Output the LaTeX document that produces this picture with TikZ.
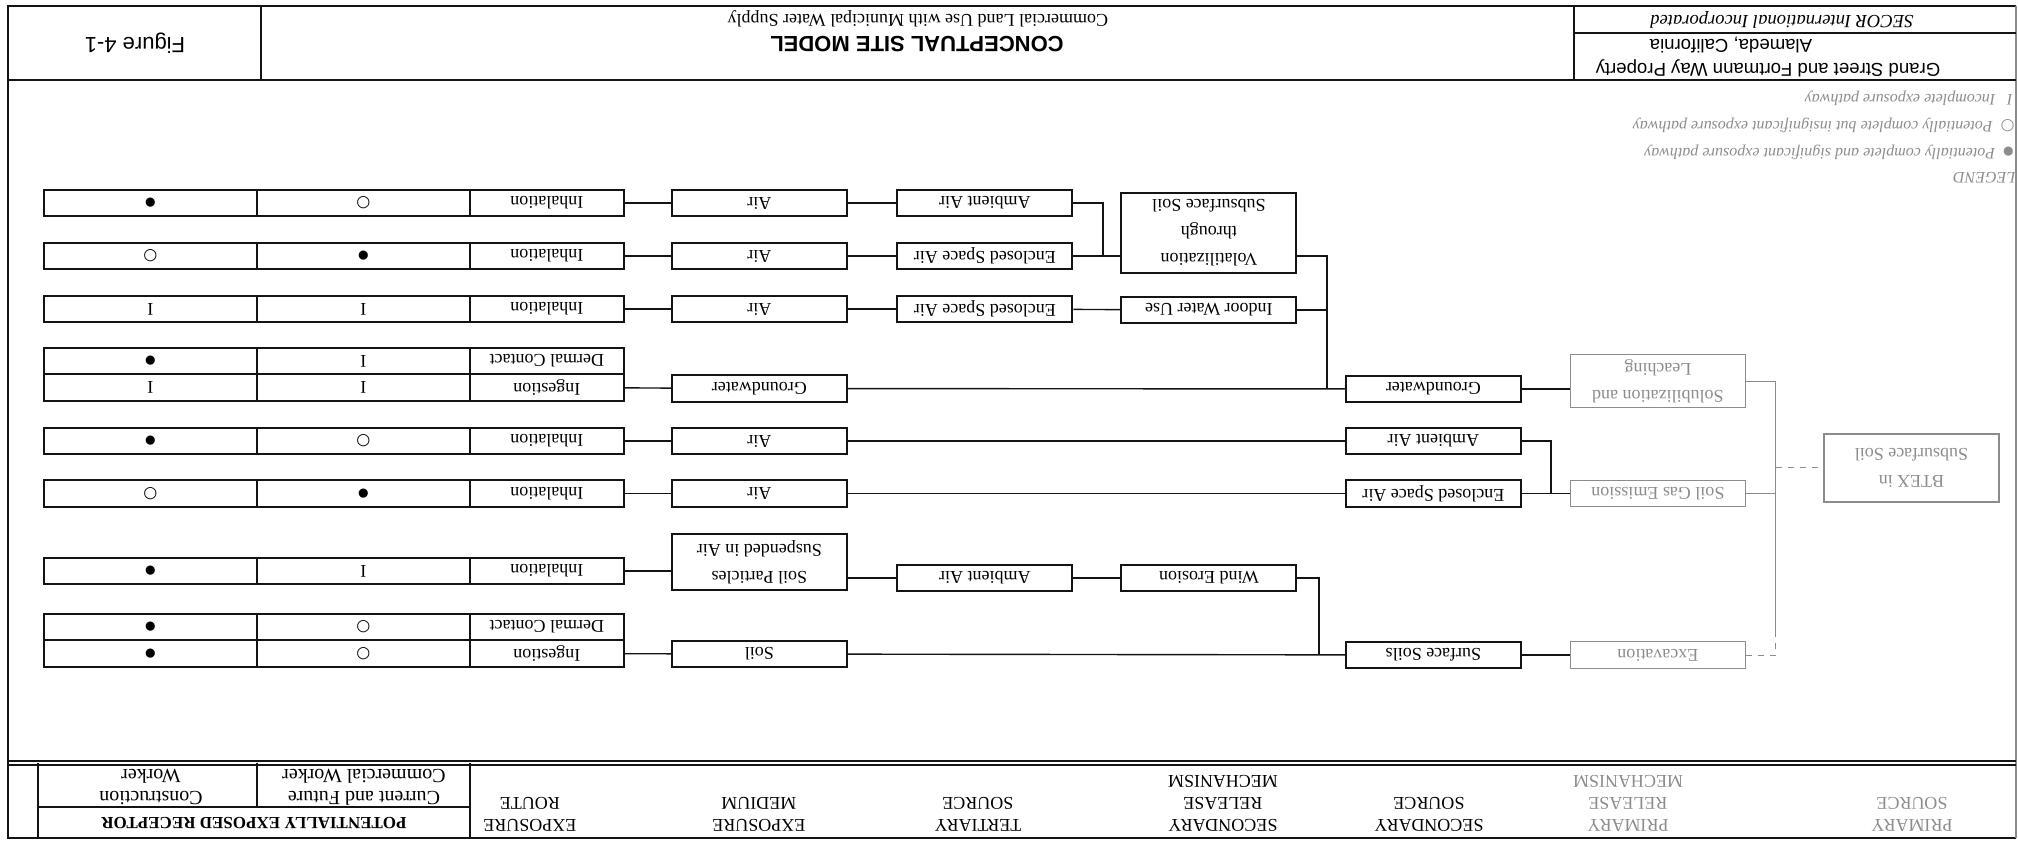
\documentclass[tikz,border=0pt]{standalone}
\usepackage{fontspec}
\setmainfont{Liberation Serif}
\setsansfont{Liberation Sans}
\newfontfamily\symfont{DejaVu Sans}
\usepackage{tikz}
\usepackage{xcolor}
\usetikzlibrary{calc}
\definecolor{ink}{HTML}{141414}
\definecolor{faded}{HTML}{8C8C8C}
\tikzset{
  cellbox/.style={draw=ink,line width=1pt,minimum height=13.25pt,
                  inner sep=1pt,align=center,font=\fontsize{9}{13.5}\selectfont},
  srcbox/.style={cellbox,minimum width=87.5pt},
  routebox/.style={cellbox,minimum width=77pt},
  rcptbox/.style={cellbox,minimum width=106.5pt},
  fadebox/.style={srcbox,draw=faded,text=faded,line width=0.6pt},
  link/.style={draw=ink,line width=0.7pt},
  fadelink/.style={draw=faded,line width=0.5pt},
  colhead/.style={anchor=north,inner sep=0pt,align=center,font=\fontsize{9}{11}\selectfont},
  legtext/.style={anchor=west,inner sep=0pt,text=faded,font=\itshape\fontsize{8}{10}\selectfont},
  frameline/.style={draw=ink,line width=1pt}
}
\newcommand{\sigmark}{{\symfont\fontsize{6}{6}\selectfont ●}}
\newcommand{\insmark}{{\symfont\fontsize{8}{8}\selectfont ○}}
\newcommand{\incmark}{I}

\begin{document}
\begin{tikzpicture}[x=0.5pt,y=0.5pt]
  \begin{scope}[rotate=180,transform shape]
    \useasboundingbox (0,0) rectangle (2018,843);

    % frame and title block
    \draw[frameline] (2,6) -- (2010,6) -- (2010,838) -- (2,838);
    \draw[draw=faded,line width=0.6pt] (2,6) -- (2,838);
    \draw[frameline] (2,80) -- (2010,80);
    \draw[frameline] (444,6) -- (444,80);
    \draw[frameline] (1757,6) -- (1757,80);
    \draw[frameline] (2,33) -- (444,33);
    \draw[frameline] (2,761) -- (2010,761);
    \draw[ink,line width=0.6pt] (2,765) -- (2010,765);
    \draw[frameline] (1548,763) -- (1548,838);
    \draw[frameline] (1980,763) -- (1980,838);
    \draw[frameline] (1548,807) -- (1980,807);
    \draw[frameline] (1761,763) -- (1761,807);

    \node[font=\sffamily\bfseries\fontsize{11}{13}\selectfont] (ttl) at (1101,44) {CONCEPTUAL SITE MODEL};
    \node[font=\fontsize{9}{11}\selectfont] (subttl) at (1100,19) {Commercial Land Use with Municipal Water Supply};
    \node[font=\sffamily\fontsize{11}{13}\selectfont] (fig) at (1883,43) {Figure 4-1};
    \node[font=\sffamily\fontsize{9.3}{11}\selectfont] (site1) at (250,68) {Grand Street and Fortmann Way Property};
    \node[font=\sffamily\fontsize{9.3}{11}\selectfont] (site2) at (287,45) {Alameda, California};
    \node[font=\itshape\fontsize{9.3}{11}\selectfont] (firm) at (236,20) {SECOR International Incorporated};

    % legend
    \node[legtext] (leg) at (2,178) {LEGEND};
    \node[legtext] (leg1) at (4,152) {\sigmark\ \ Potentially complete and significant exposure pathway};
    \node[legtext] (leg2) at (3,125) {\insmark\ \ Potentially complete but insignificant exposure pathway};
    \node[legtext] (leg3) at (5,98) {\incmark\ \ \ Incomplete exposure pathway};

    % column heads
    \node[colhead,text=faded] (hSrc) at (106,832) {PRIMARY\\SOURCE};
    \node[colhead,text=faded] (hRel) at (390,832) {PRIMARY\\RELEASE\\MECHANISM};
    \node[colhead] (hSrc2) at (589,832) {SECONDARY\\SOURCE};
    \node[colhead] (hRel2) at (795,832) {SECONDARY\\RELEASE\\MECHANISM};
    \node[colhead] (hTer) at (1040,832) {TERTIARY\\SOURCE};
    \node[colhead] (hMed) at (1259,832) {EXPOSURE\\MEDIUM};
    \node[colhead] (hRte) at (1488,832) {EXPOSURE\\ROUTE};
    \node[font=\bfseries\fontsize{8.5}{10}\selectfont] (hRcp) at (1764,823) {POTENTIALLY EXPOSED RECEPTOR};
    \node[align=center,font=\fontsize{10}{11}\selectfont] (hCur) at (1654,787) {Current and Future\\Commercial Worker};
    \node[align=center,font=\fontsize{10}{11}\selectfont] (hCon) at (1867,787) {Construction\\Worker};

    % exposure routes and receptors
    \foreach \n/\y/\rt/\cur/\con in {r1/203/Inhalation/\insmark/\sigmark,
        r2/256/Inhalation/\sigmark/\insmark,
        r3/309/Inhalation/\incmark/\incmark,
        r4a/361/Dermal Contact/\incmark/\sigmark,
        r4b/387.5/Ingestion/\incmark/\incmark,
        r5/441/Inhalation/\insmark/\sigmark,
        r6/493.5/Inhalation/\sigmark/\insmark,
        r7/571/Inhalation/\incmark/\sigmark,
        r8a/627/Dermal Contact/\insmark/\sigmark,
        r8b/653.5/Ingestion/\insmark/\sigmark} {
      \node[routebox] (\n) at (1471,\y) {\rt};
      \node[rcptbox] (\n-cur) at (1654.5,\y) {\cur};
      \node[rcptbox] (\n-con) at (1867.5,\y) {\con};
    }

    % exposure media
    \foreach \m/\y in {1/203,2/256,3/309,5/441,6/493.5} {
      \node[srcbox] (air\m) at (1258.5,\y) {Air};
      \draw[link] (air\m) -- (r\m);
    }
    \node[srcbox] (mGw) at (1258.5,388.5) {Groundwater};
    \node[srcbox,minimum height=28pt] (mPart) at (1258.5,562) {Soil Particles\\Suspended in Air};
    \node[srcbox] (mSoil) at (1258.5,654) {Soil};
    \draw[link] (mGw) -- (r4b);
    \draw[link] (mPart.east |- r7) -- (r7.west);
    \draw[link] (mSoil) -- (r8b);

    % tertiary sources
    \node[srcbox] (tAmb1) at (1033,203) {Ambient Air};
    \node[srcbox] (tEnc2) at (1033,256) {Enclosed Space Air};
    \node[srcbox] (tEnc3) at (1033,309) {Enclosed Space Air};
    \node[srcbox] (tAmb7) at (1033,578) {Ambient Air};
    \draw[link] (tAmb1) -- (air1);
    \draw[link] (tEnc2) -- (air2);
    \draw[link] (tEnc3) -- (air3);
    \draw[link] (tAmb7.east) -- (tAmb7.east -| mPart.west);

    % secondary release mechanisms
    \node[srcbox,minimum height=40pt] (rVol) at (809,233) {Volatilization\\through\\Subsurface Soil};
    \node[srcbox] (rWat) at (809,310) {Indoor Water Use};
    \node[srcbox] (rWind) at (809,578) {Wind Erosion};
    \coordinate (jT) at (915,256);
    \draw[link] (tAmb1.west) -| (jT);
    \draw[link] (tEnc2.west) -- (tEnc2.west -| rVol.east);
    \draw[link] (rWat) -- (tEnc3);
    \draw[link] (rWind) -- (tAmb7);

    % secondary sources
    \node[srcbox] (sGw) at (584.5,389) {Groundwater};
    \node[srcbox] (sAmb) at (584.5,441) {Ambient Air};
    \node[srcbox] (sEnc) at (584.5,493.5) {Enclosed Space Air};
    \node[srcbox] (sSoil) at (584.5,655) {Surface Soils};
    \draw[link] (sGw) -- (mGw);
    \draw[link] (sAmb) -- (air5);
    \draw[link] (sEnc) -- (air6);
    \draw[link] (sSoil) -- (mSoil);
    \coordinate (jG) at (691,389);
    \coordinate (jW) at (699,654.5);
    \coordinate (jS) at (467,493.5);
    \draw[link] (rVol.west |- tEnc2) -| (jG);
    \draw[link] (rWat.west) -- (rWat.west -| jG);
    \draw[link] (rWind.west) -| (jW);
    \draw[link] (sAmb.west) -| (jS);

    % primary release mechanisms and source
    \node[fadebox,minimum height=26.5pt] (pSol) at (360,381) {Solubilization and\\Leaching};
    \node[fadebox] (pGas) at (360,493.5) {Soil Gas Emission};
    \node[fadebox] (pExc) at (360,655) {Excavation};
    \node[fadebox,minimum height=34pt] (pSrc) at (106.5,468) {BTEX in\\Subsurface Soil};
    \draw[link] (sGw.west) -- (sGw.west -| pSol.east);
    \draw[link] (sEnc) -- (pGas);
    \draw[link] (sSoil) -- (pExc);
    \coordinate (jP) at (242,467);
    \draw[fadelink] (pSol.west) -| (pGas.west -| jP) -- (pGas.west);
    \draw[fadelink] (pGas.west -| jP) -- ($(pExc.west -| jP)+(0,-24)$);
    \draw[fadelink,dashed] ($(pExc.west -| jP)+(0,-24)$) |- (pExc.west);
    \draw[fadelink,dashed] (jP) -- (pSrc.east |- jP);
  \end{scope}
\end{tikzpicture}
\end{document}
